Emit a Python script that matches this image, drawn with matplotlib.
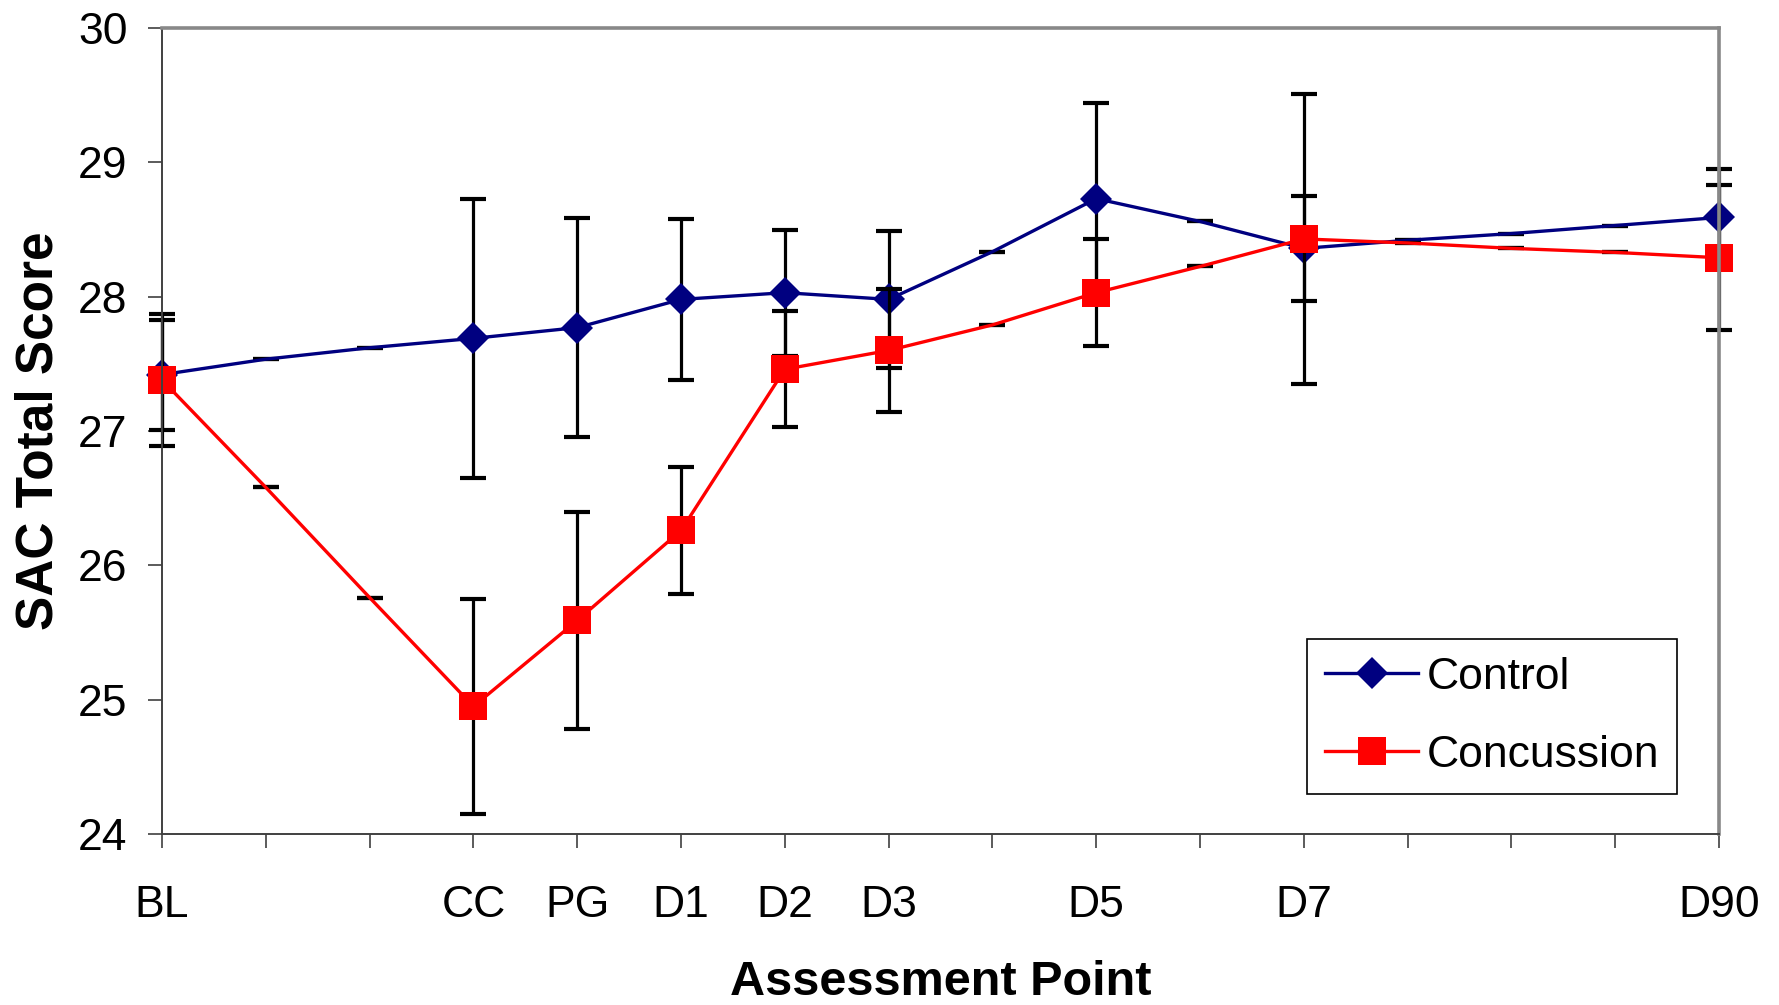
import numpy as np
import matplotlib
matplotlib.use('Agg')
import matplotlib.pyplot as plt

# category axis: blank slots are days with no assessment
labels = ['BL', '', '', 'CC', 'PG', 'D1', 'D2', 'D3', '', 'D5', '', 'D7', '', '', '', 'D90']
marked = [0, 3, 4, 5, 6, 7, 9, 11, 15]

control = [27.42, 27.535, 27.62, 27.69, 27.77, 27.98, 28.03, 27.98, 28.335, 28.73,
           28.56, 28.36, 28.42, 28.47, 28.53, 28.59]
control_err = [0.41, 0, 0, 1.04, 0.815, 0.60, 0.47, 0.51, 0, 0.71, 0, 0.39, 0, 0, 0, 0.36]

concussion = [27.38, 26.58, 25.76, 24.95, 25.59, 26.26, 27.46, 27.60, 27.79, 28.03,
              28.225, 28.43, 28.40, 28.36, 28.33, 28.29]
concussion_err = [0.49, 0, 0, 0.80, 0.805, 0.47, 0.43, 0.46, 0, 0.40, 0, 1.08, 0, 0, 0, 0.54]

fam = ['Liberation Sans', 'DejaVu Sans']

fig = plt.figure(figsize=(17.79, 10.05), dpi=100)
ax = fig.add_axes([0.0911, 0.1701, 0.8752, 0.802])

x = np.arange(len(labels))

errkw = dict(fmt='none', ecolor='black', elinewidth=2.3, capsize=9.5, capthick=3, clip_on=False)

eb = ax.errorbar(x, control, yerr=control_err, **errkw)
ax.plot(x, control, color='#000080', lw=2.4, marker='D', markersize=16.3,
        markevery=marked, markeredgewidth=0, label='Control', clip_on=False)
eb2 = ax.errorbar(x, concussion, yerr=concussion_err, **errkw)
ax.plot(x, concussion, color='#FF0000', lw=2.4, marker='s', markersize=20,
        markevery=marked, markeredgewidth=0, label='Concussion', clip_on=False)

for e in (eb, eb2):
    for part in e.lines[1] + e.lines[2]:
        part.set_clip_on(False)

ax.set_xlim(0, 15)
ax.set_ylim(24, 30)
ax.set_xticks(x)
ax.set_xticklabels(labels, family=fam, fontsize=32)
ax.set_yticks(np.arange(24, 31, 1))
ax.set_yticklabels([str(v) for v in range(24, 31)], family=fam, fontsize=32)
ax.tick_params(axis='y', direction='out', length=10, width=1.2, color='#404040', pad=15)
ax.tick_params(axis='x', direction='out', length=10, width=1.2, color='#404040', pad=27)

for side in ['left', 'bottom']:
    ax.spines[side].set_color('#404040')
    ax.spines[side].set_linewidth(1.4)
for side in ['top', 'right']:
    ax.spines[side].set_color('#888888')
    ax.spines[side].set_linewidth(2.6)

ax.set_xlabel('Assessment Point', family=fam, fontweight='bold', fontsize=35, labelpad=24)
ax.set_ylabel('SAC Total Score', family=fam, fontweight='bold', fontsize=37, labelpad=10)

leg = ax.legend(loc='upper left', bbox_to_anchor=(0.7354, 0.2419), prop={'family': fam, 'size': 32},
                frameon=True, fancybox=False, edgecolor='black', framealpha=1,
                handlelength=2.1, handletextpad=0.2, borderpad=0.4, labelspacing=0.83,
                borderaxespad=0)
leg.get_frame().set_linewidth(1.2)

fig.savefig('out.png', dpi=100)
